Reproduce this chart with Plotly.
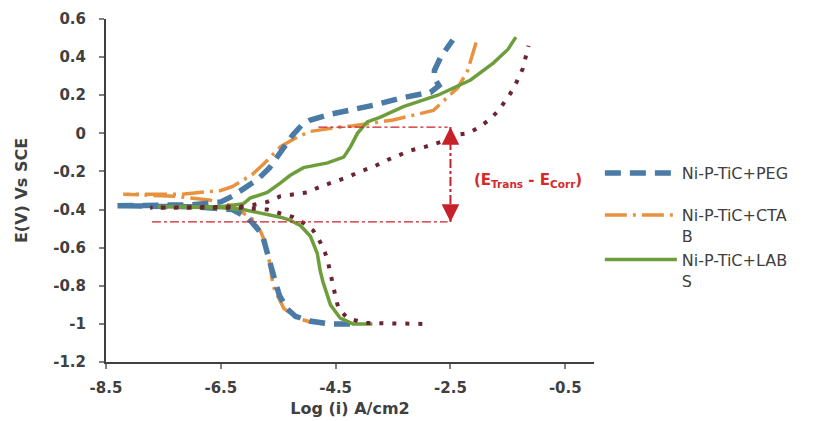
import plotly.graph_objects as go

# ---------------- data (log i in A/cm2, E in V vs SCE) ----------------
peg_logi = [-4.25, -4.6, -4.95, -5.2, -5.35, -5.48, -5.55, -5.6, -5.68, -5.78, -5.95, -6.05, -6.3, -7.0, -8.3,
            -7.0, -6.5, -6.3, -6.1, -5.85, -5.65, -5.45, -5.25, -5.1, -4.94, -4.6, -4.24, -3.8, -3.37, -2.85,
            -2.7, -2.78, -2.78, -2.67, -2.46]
peg_E = [-1.0, -1.0, -0.985, -0.96, -0.92, -0.85, -0.78, -0.72, -0.63, -0.53, -0.47, -0.44, -0.40, -0.385, -0.38,
         -0.375, -0.36, -0.33, -0.29, -0.24, -0.18, -0.09, -0.01, 0.04, 0.07, 0.10, 0.12, 0.15, 0.185, 0.215,
         0.25, 0.29, 0.33, 0.40, 0.49]

ctab_logi = [-4.7, -4.94, -5.17, -5.4, -5.5, -5.59, -5.65, -5.72, -5.8, -5.95, -6.3, -6.7, -7.3, -8.2,
             -7.2, -6.8, -6.5, -6.3, -5.95, -5.75, -5.46, -5.17, -4.94, -4.5, -4.19, -3.5, -2.8, -2.37, -2.2, -2.03]
ctab_E = [-1.0, -0.99, -0.97, -0.92, -0.86, -0.80, -0.68, -0.58, -0.52, -0.45, -0.38, -0.35, -0.33, -0.32,
          -0.32, -0.31, -0.30, -0.28, -0.215, -0.16, -0.07, -0.02, 0.01, 0.03, 0.04, 0.07, 0.12, 0.24, 0.33, 0.50]

labs_logi = [-3.86, -4.2, -4.42, -4.59, -4.72, -4.77, -4.82, -4.94, -5.11, -5.3, -5.46, -5.81, -6.11, -6.5, -7.6,
             -6.5, -6.11, -5.99, -5.69, -5.46, -5.29, -5.06, -4.64, -4.36, -4.24, -4.12, -3.95, -3.72, -3.32,
             -2.72, -2.15, -1.75, -1.5, -1.36]
labs_E = [-1.0, -1.0, -0.97, -0.90, -0.78, -0.72, -0.63, -0.54, -0.485, -0.455, -0.44, -0.42, -0.40, -0.39, -0.385,
          -0.385, -0.37, -0.34, -0.31, -0.26, -0.22, -0.18, -0.155, -0.125, -0.07, 0.0, 0.06, 0.085, 0.14,
          0.20, 0.28, 0.37, 0.44, 0.505]

nip_logi = [-2.99, -3.5, -4.0, -4.29, -4.45, -4.50, -4.54, -4.59, -4.63, -4.68, -4.77, -4.89, -5.06, -5.24, -5.46,
            -5.69, -6.16, -7.73, -6.16, -5.93, -5.69, -5.46, -5.2, -4.99, -4.77, -4.54, -4.29, -4.07, -3.84,
            -3.6, -3.2, -2.93, -2.67, -2.44, -2.2, -2.01, -1.83, -1.66, -1.54, -1.41, -1.33, -1.24, -1.19, -1.14]
nip_E = [-1.0, -1.0, -0.995, -0.97, -0.92, -0.86, -0.80, -0.73, -0.68, -0.63, -0.57, -0.51, -0.47, -0.44, -0.42,
         -0.40, -0.39, -0.39, -0.385, -0.375, -0.36, -0.33, -0.32, -0.31, -0.28, -0.255, -0.23, -0.20, -0.175,
         -0.14, -0.09, -0.07, -0.045, -0.01, 0.0, 0.03, 0.07, 0.12, 0.175, 0.23, 0.28, 0.34, 0.40, 0.46]

series_names = ["Ni-P-TiC+PEG", "Ni-P-TiC+CTA<br>B", "Ni-P-TiC+LAB<br>S", "Ni-P-TiC"]

x_tickvals = [-8.5, -6.5, -4.5, -2.5, -0.5]
x_ticktext = ["-8.5", "-6.5", "-4.5", "-2.5", "-0.5"]
y_tickvals = [0.6, 0.4, 0.2, 0.0, -0.2, -0.4, -0.6, -0.8, -1.0, -1.2]
y_ticktext = ["0.6", "0.4", "0.2", "0", "-0.2", "-0.4", "-0.6", "-0.8", "-1", "-1.2"]

# annotation values
E_trans = 0.033
E_corr = -0.465
arrow_logi = -2.5
trans_line_start = -4.8
corr_line_start = -7.7
line_end = -2.55

# ---------------- figure ----------------
fig = go.Figure()

fig.add_trace(go.Scatter(x=ctab_logi, y=ctab_E, mode="lines", name=series_names[1],
                         legendgroup="g2", legendrank=2,
                         line=dict(color="#e8923f", width=3.5, dash="22px,6px,3px,6px")))
fig.add_trace(go.Scatter(x=peg_logi, y=peg_E, mode="lines", name=series_names[0],
                         legendgroup="g1", legendrank=1,
                         line=dict(color="#4a7aa6", width=5.5, dash="16px,9px")))
fig.add_trace(go.Scatter(x=labs_logi, y=labs_E, mode="lines", name=series_names[2],
                         legendgroup="g2", legendrank=3,
                         line=dict(color="#6e9e3c", width=3.5)))
fig.add_trace(go.Scatter(x=nip_logi, y=nip_E, mode="lines", name=series_names[3],
                         showlegend=False,
                         line=dict(color="#6a2432", width=4, dash="4px,9px")))

red = "#c8202a"
fig.add_shape(type="line", x0=trans_line_start, x1=line_end, y0=E_trans, y1=E_trans,
              line=dict(color=red, width=1.3, dash="dashdot"))
fig.add_shape(type="line", x0=corr_line_start, x1=line_end, y0=E_corr, y1=E_corr,
              line=dict(color=red, width=1.3, dash="dashdot"))
fig.add_shape(type="line", x0=arrow_logi, x1=arrow_logi, y0=E_corr, y1=E_trans,
              line=dict(color=red, width=2, dash="dashdot"))

fig.add_annotation(x=arrow_logi, y=E_trans, ax=0, ay=14, text="", showarrow=True,
                   arrowhead=2, arrowsize=1.6, arrowwidth=2.2, arrowcolor=red, standoff=0)
fig.add_annotation(x=arrow_logi, y=E_corr, ax=0, ay=-14, text="", showarrow=True,
                   arrowhead=2, arrowsize=1.6, arrowwidth=2.2, arrowcolor=red, standoff=0)
fig.add_annotation(x=-2.12, y=-0.245, xanchor="left", yanchor="middle", showarrow=False,
                   text="<b>(E<sub>Trans</sub> - E<sub>Corr</sub>)</b>",
                   font=dict(family="DejaVu Sans", size=15, color="#d42a2a"))

axis_font = dict(family="DejaVu Sans", size=15, color="#404040", weight="bold")
title_font = dict(family="DejaVu Sans", size=16, color="#404040")

fig.update_xaxes(range=[-8.5, 0], tickvals=x_tickvals, ticktext=x_ticktext,
                 showgrid=False, zeroline=False, showline=True, linecolor="#404040", linewidth=2,
                 ticks="outside", ticklen=5, tickwidth=1.5, tickcolor="#808080",
                 tickfont=axis_font, ticklabelstandoff=6, automargin=False,
                 title=dict(text="<b>Log (i) A/cm2</b>", font=title_font, standoff=7))
fig.update_yaxes(range=[-1.2, 0.6], tickvals=y_tickvals, ticktext=y_ticktext,
                 showgrid=False, zeroline=False, showline=True, linecolor="#404040", linewidth=2,
                 ticks="outside", ticklen=5, tickwidth=1.5, tickcolor="#808080",
                 tickfont=axis_font, ticklabelstandoff=10, automargin=False,
                 title=dict(text="<b>E(V) Vs SCE</b>", font=title_font, standoff=22))

fig.update_layout(
    width=819, height=421,
    margin=dict(l=106, r=225, t=19, b=59),
    paper_bgcolor="white", plot_bgcolor="white",
    showlegend=True,
    legend=dict(x=1.012, y=0.6, xanchor="left", yanchor="top",
                traceorder="grouped", tracegroupgap=18, itemwidth=72, valign="top",
                font=dict(family="DejaVu Sans", size=16, color="#404040"),
                bgcolor="rgba(0,0,0,0)"),
)

fig.write_html("out.html")
